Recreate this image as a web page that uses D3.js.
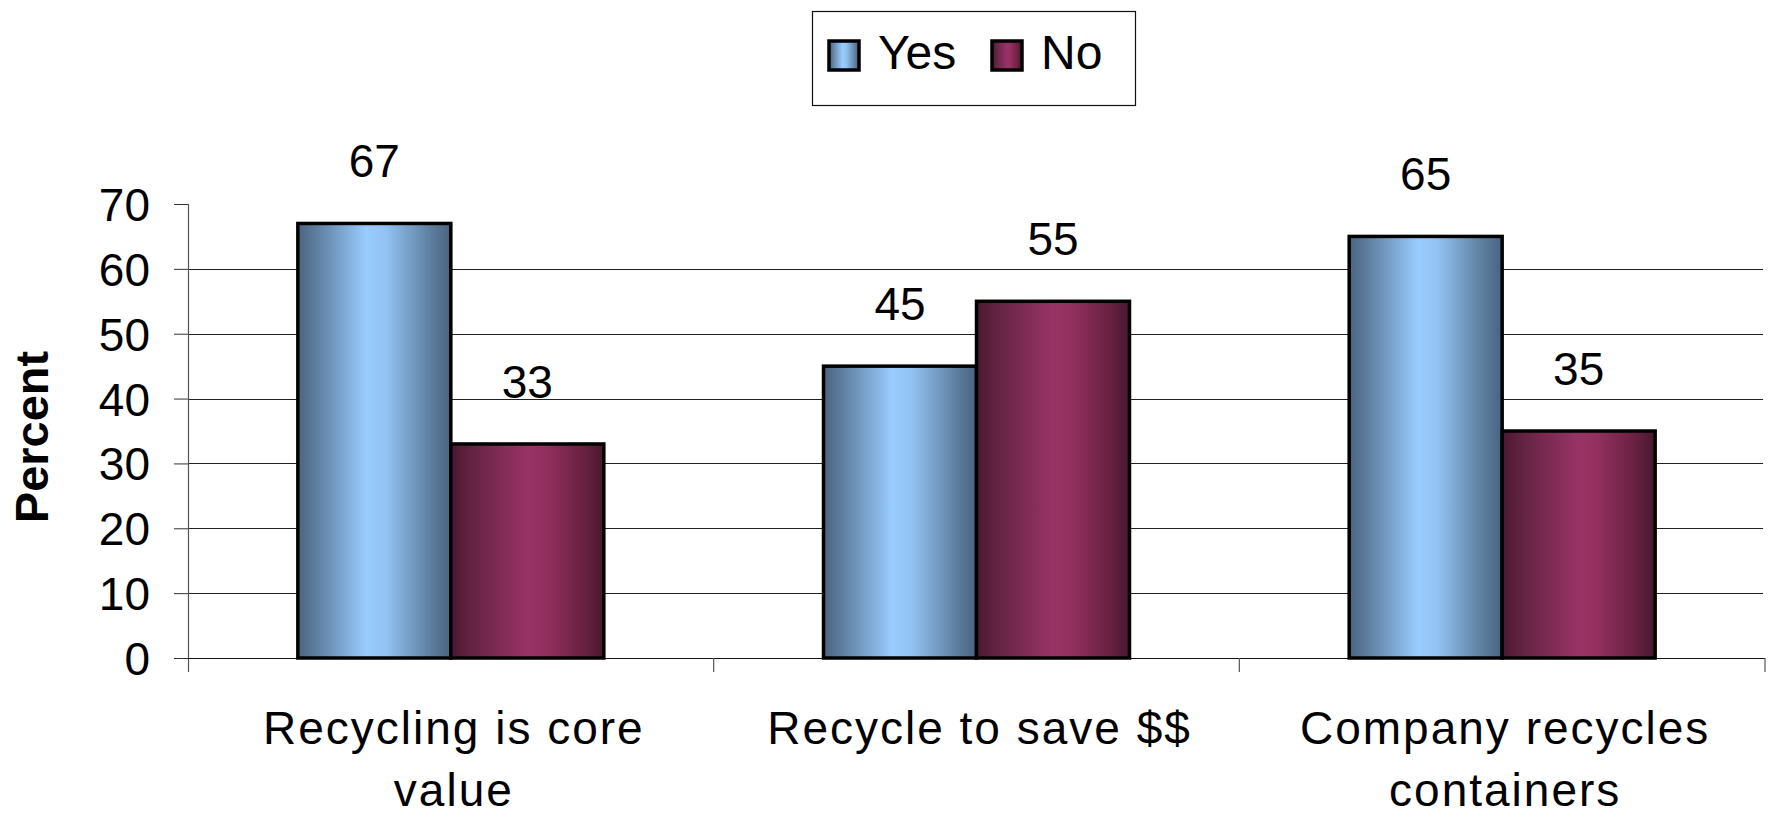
<!DOCTYPE html>
<html lang="en">
<head>
    <meta charset="UTF-8">
    <title>Recycling survey</title>
    <script src="https://cdnjs.cloudflare.com/ajax/libs/d3/7.8.5/d3.min.js"></script>
    <style>
        * { margin: 0; padding: 0; box-sizing: border-box; }
        body { background: #fff; font-family: 'Liberation Sans', Arial, sans-serif; }
        #chart { width: 1771px; height: 816px; }
    </style>
</head>
<body>
    <div id="chart"></div>

    <script>
        // data
        const categories = ['Recycling is core value', 'Recycle to save $$', 'Company recycles containers'];
        const categoryLines = [['Recycling is core', 'value'], ['Recycle to save $$'], ['Company recycles', 'containers']];
        const series = ['Yes', 'No'];
        const yesValues = [67, 45, 65];
        const noValues = [33, 55, 35];
        const yTicks = [0, 10, 20, 30, 40, 50, 60, 70];

        const width = 1771, height = 816;
        const plot = { left: 188, right: 1765, top: 204, bottom: 658 };

        const svg = d3.select('#chart').append('svg')
            .attr('width', width)
            .attr('height', height);

        // gradients for the bars (dark edges, light middle)
        const defs = svg.append('defs');
        const grads = {
            Yes: [['0%', '#4a6480'], ['12%', '#5e7e9f'], ['45%', '#99ccff'], ['58%', '#92c2f2'], ['88%', '#5b7c9c'], ['100%', '#4a6380']],
            No:  [['0%', '#4a1930'], ['15%', '#662444'], ['50%', '#993366'], ['62%', '#93305f'], ['88%', '#662040'], ['100%', '#48182f']]
        };
        Object.entries(grads).forEach(([k, stops]) => {
            const g = defs.append('linearGradient').attr('id', 'grad-' + k)
                .attr('x1', '0%').attr('x2', '100%').attr('y1', '0%').attr('y2', '0%');
            stops.forEach(s => g.append('stop').attr('offset', s[0]).attr('stop-color', s[1]));
        });

        const y = d3.scaleLinear().domain([0, 70]).range([plot.bottom, plot.top]);
        const x0 = d3.scaleBand().domain(categories).range([plot.left, plot.right]).padding(0);
        const x1 = d3.scaleBand().domain(series).range([0, x0.bandwidth()])
            .paddingInner(0).paddingOuter(0.718);

        // gridlines (no line at the top tick)
        svg.append('g')
            .selectAll('line')
            .data(yTicks.filter(t => t > 0 && t < 70))
            .enter().append('line')
            .attr('x1', plot.left).attr('x2', plot.right - 2)
            .attr('y1', d => Math.round(y(d)) + 0.5).attr('y2', d => Math.round(y(d)) + 0.5)
            .attr('stroke', '#222').attr('stroke-width', 1);

        // y axis
        const yAxis = svg.append('g')
            .attr('transform', `translate(${plot.left},0)`)
            .call(d3.axisLeft(y).tickValues(yTicks).tickSize(14).tickPadding(24));
        yAxis.select('.domain').remove();
        yAxis.selectAll('line').attr('stroke', '#333');
        yAxis.selectAll('text')
            .attr('font-size', 46)
            .attr('font-family', "'Liberation Sans', Arial, sans-serif")
            .attr('fill', '#000')
            .attr('dy', '0.36em');
        svg.append('line')
            .attr('x1', plot.left + 0.5).attr('x2', plot.left + 0.5)
            .attr('y1', plot.top).attr('y2', plot.bottom + 14)
            .attr('stroke', '#555').attr('stroke-width', 1.2);

        // x axis line and category ticks
        svg.append('line')
            .attr('x1', plot.left).attr('x2', plot.right)
            .attr('y1', plot.bottom + 0.5).attr('y2', plot.bottom + 0.5)
            .attr('stroke', '#111').attr('stroke-width', 1.2);
        const boundaries = categories.map(c => x0(c)).concat([plot.right]);
        svg.append('g').selectAll('line')
            .data(boundaries.slice(1))
            .enter().append('line')
            .attr('x1', d => d).attr('x2', d => d)
            .attr('y1', plot.bottom).attr('y2', plot.bottom + 14)
            .attr('stroke', '#555').attr('stroke-width', 1.2);

        // bars
        const rows = categories.map((c, i) => ({ cat: c, Yes: yesValues[i], No: noValues[i] }));
        const groups = svg.append('g').selectAll('g')
            .data(rows)
            .enter().append('g')
            .attr('transform', d => `translate(${x0(d.cat)},0)`);

        groups.selectAll('rect')
            .data(d => series.map(s => ({ key: s, value: d[s] })))
            .enter().append('rect')
            .attr('x', d => x1(d.key))
            .attr('y', d => y(d.value))
            .attr('width', x1.bandwidth())
            .attr('height', d => y(0) - y(d.value))
            .attr('fill', d => `url(#grad-${d.key})`)
            .attr('stroke', '#000')
            .attr('stroke-width', 3.5);

        groups.selectAll('text.val')
            .data(d => series.map(s => ({ key: s, value: d[s] })))
            .enter().append('text')
            .attr('class', 'val')
            .attr('x', d => x1(d.key) + x1.bandwidth() / 2)
            .attr('y', d => y(d.value) - 46)
            .attr('text-anchor', 'middle')
            .attr('font-size', 46)
            .attr('fill', '#000')
            .text(d => d.value);

        // category labels
        svg.append('g').selectAll('text')
            .data(categories)
            .enter().append('text')
            .attr('x', d => x0(d) + x0.bandwidth() / 2 + 3)
            .attr('y', 744)
            .attr('text-anchor', 'middle')
            .attr('font-size', 46)
            .attr('letter-spacing', 2)
            .attr('fill', '#000')
            .each(function(d, i) {
                const t = d3.select(this);
                categoryLines[i].forEach((line, j) => {
                    t.append('tspan')
                        .attr('x', x0(d) + x0.bandwidth() / 2 + 3)
                        .attr('dy', j === 0 ? 0 : 62)
                        .text(line);
                });
            });

        // y axis title
        svg.append('text')
            .attr('transform', 'translate(48,437) rotate(-90)')
            .attr('text-anchor', 'middle')
            .attr('font-size', 47)
            .attr('font-weight', 'bold')
            .attr('fill', '#000')
            .text('Percent');

        // legend
        const legend = svg.append('g');
        legend.append('rect')
            .attr('x', 812.5).attr('y', 11.5)
            .attr('width', 323).attr('height', 94)
            .attr('fill', '#fff')
            .attr('stroke', '#111').attr('stroke-width', 1.2);
        const legendX = [829, 992];
        series.forEach((s, i) => {
            legend.append('rect')
                .attr('x', legendX[i]).attr('y', 41)
                .attr('width', 30).attr('height', 29)
                .attr('fill', `url(#grad-${s})`)
                .attr('stroke', '#000').attr('stroke-width', 3.5);
            legend.append('text')
                .attr('x', legendX[i] + 49).attr('y', 69)
                .attr('font-size', 48)
                .attr('fill', '#000')
                .text(s);
        });
    </script>
</body>
</html>
